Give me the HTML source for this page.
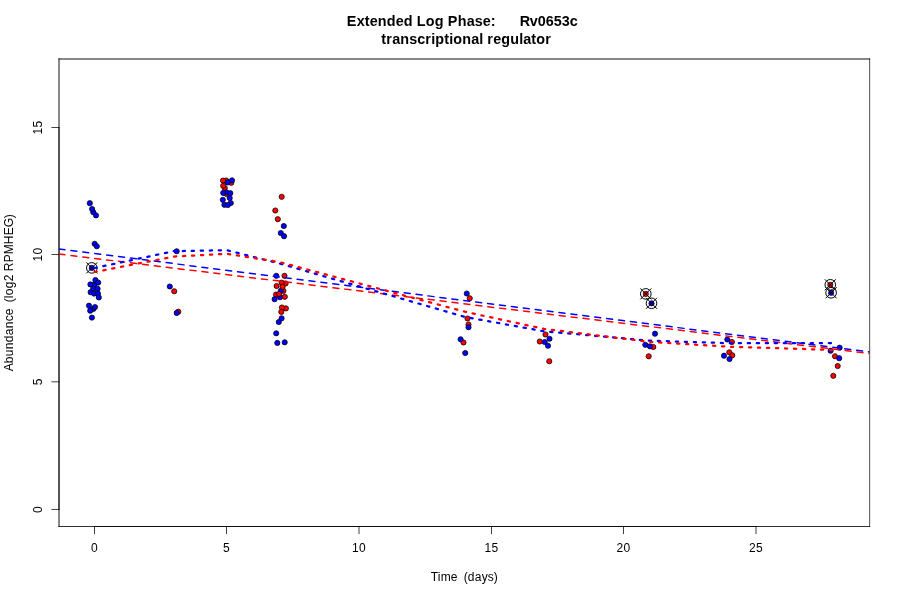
<!DOCTYPE html>
<html><head><meta charset="utf-8"><title>Extended Log Phase: Rv0653c</title>
<style>
html,body{margin:0;padding:0;background:#fff;}
body{width:900px;height:600px;overflow:hidden;}
svg{display:block;will-change:transform;}
text{font-family:"Liberation Sans",Arial,Helvetica,sans-serif;fill:#000;}
.t{font-weight:bold;font-size:14.4px;}
.a{font-size:12px;}
</style></head><body>
<svg width="900" height="600" viewBox="0 0 900 600">
<defs><clipPath id="pc"><rect x="59" y="59" width="810.5" height="467.5"/></clipPath></defs>
<rect width="900" height="600" fill="#fff"/>
<text class="t" x="346.75 356.75 364.75 369.75 377.75 386.75 395.75 403.75 412.75 416.75 425.75 434.75 443.75 447.75 457.75 466.75 474.75 482.75 490.75 495.75 499.75 503.75 507.75 511.75 515.75 519.75 529.75 537.75 545.75 553.75 561.75 569.75 577.75" y="0" transform="translate(0,26) scale(1,1.07)" xml:space="preserve">Extended Log Phase:      Rv0653c </text>
<text class="t" x="377.25 381.25 386.25 392.25 400.25 409.25 417.25 425.25 431.25 435.25 444.25 449.25 453.25 462.25 471.25 479.25 483.25 487.25 493.25 501.25 510.25 519.25 523.25 531.25 536.25 545.25" y="0" transform="translate(0,44.3) scale(1,1.07)" xml:space="preserve"> transcriptional regulator</text>
<text class="a" x="430.75 437.75 440.75 450.75 457.75 460.75 463.75 467.75 474.75 481.75 487.75 493.75" y="581" xml:space="preserve">Time  (days)</text>
<text class="a" x="-78.50 -70.50 -63.50 -56.50 -49.50 -42.50 -35.50 -28.50 -22.50 -15.50 -12.50 -9.50 -5.50 -2.50 4.50 11.50 18.50 21.50 30.50 38.50 48.50 57.50 65.50 74.50" y="0" transform="translate(13,292.75) rotate(-90)" xml:space="preserve">Abundance  (log2 RPMHEG)</text>
<g stroke="#000" fill="none"><line x1="58.5" y1="59" x2="870" y2="59" stroke-width="0.94"/><line x1="59" y1="58.5" x2="59" y2="527" stroke-width="0.94"/><line x1="869.66" y1="58.5" x2="869.66" y2="527" stroke-width="0.7"/><line x1="58.5" y1="526.5" x2="870" y2="526.5" stroke-width="0.81"/></g>
<g stroke="#000" stroke-width="0.75" fill="none" stroke-linecap="round"><line x1="94.5" y1="526.5" x2="756.0" y2="526.5"/><line x1="94.5" y1="526.5" x2="94.5" y2="533.7"/><line x1="226.5" y1="526.5" x2="226.5" y2="533.7"/><line x1="359.0" y1="526.5" x2="359.0" y2="533.7"/><line x1="491.5" y1="526.5" x2="491.5" y2="533.7"/><line x1="623.5" y1="526.5" x2="623.5" y2="533.7"/><line x1="756.0" y1="526.5" x2="756.0" y2="533.7"/><line x1="59.0" y1="509.45" x2="59.0" y2="127.5"/><line x1="51.8" y1="509.45" x2="59.0" y2="509.45"/><line x1="51.8" y1="381.8" x2="59.0" y2="381.8"/><line x1="51.8" y1="254.5" x2="59.0" y2="254.5"/><line x1="51.8" y1="127.5" x2="59.0" y2="127.5"/></g>
<text class="a" x="91.00" y="551.5" xml:space="preserve">0</text><text class="a" x="223.00" y="551.5" xml:space="preserve">5</text><text class="a" x="352.00 359.00" y="551.5" xml:space="preserve">10</text><text class="a" x="484.50 491.50" y="551.5" xml:space="preserve">15</text><text class="a" x="616.50 623.50" y="551.5" xml:space="preserve">20</text><text class="a" x="749.00 756.00" y="551.5" xml:space="preserve">25</text>
<text class="a" x="-3.50" y="0" transform="translate(42,509.45) rotate(-90)" xml:space="preserve">0</text><text class="a" x="-3.50" y="0" transform="translate(42,381.8) rotate(-90)" xml:space="preserve">5</text><text class="a" x="-7.00 0.00" y="0" transform="translate(42,254.5) rotate(-90)" xml:space="preserve">10</text><text class="a" x="-7.00 0.00" y="0" transform="translate(42,127.5) rotate(-90)" xml:space="preserve">15</text>
<g clip-path="url(#pc)">
<circle cx="94.4" cy="284.6" r="2.6" fill="#0000ff" stroke="#000" stroke-width="0.75"/><circle cx="90.6" cy="292.2" r="2.6" fill="#0000ff" stroke="#000" stroke-width="0.75"/><circle cx="89.8" cy="203.2" r="2.6" fill="#0000ff" stroke="#000" stroke-width="0.75"/><circle cx="93.3" cy="212.2" r="2.6" fill="#0000ff" stroke="#000" stroke-width="0.75"/><circle cx="92.1" cy="209.0" r="2.6" fill="#0000ff" stroke="#000" stroke-width="0.75"/><circle cx="96.0" cy="215.4" r="2.6" fill="#0000ff" stroke="#000" stroke-width="0.75"/><circle cx="94.6" cy="243.75" r="2.6" fill="#0000ff" stroke="#000" stroke-width="0.75"/><circle cx="96.8" cy="246.25" r="2.6" fill="#0000ff" stroke="#000" stroke-width="0.75"/><circle cx="91.8" cy="267.9" r="2.6" fill="#0000ff" stroke="#000" stroke-width="0.75"/><circle cx="95.4" cy="280.0" r="2.6" fill="#0000ff" stroke="#000" stroke-width="0.75"/><circle cx="98.2" cy="282.6" r="2.6" fill="#0000ff" stroke="#000" stroke-width="0.75"/><circle cx="90.4" cy="284.4" r="2.6" fill="#0000ff" stroke="#000" stroke-width="0.75"/><circle cx="93.2" cy="288.6" r="2.6" fill="#0000ff" stroke="#000" stroke-width="0.75"/><circle cx="97.6" cy="288.8" r="2.6" fill="#0000ff" stroke="#000" stroke-width="0.75"/><circle cx="94.0" cy="293.6" r="2.6" fill="#0000ff" stroke="#000" stroke-width="0.75"/><circle cx="98.0" cy="293.6" r="2.6" fill="#0000ff" stroke="#000" stroke-width="0.75"/><circle cx="98.8" cy="297.4" r="2.6" fill="#0000ff" stroke="#000" stroke-width="0.75"/><circle cx="93.3" cy="309.0" r="2.6" fill="#0000ff" stroke="#000" stroke-width="0.75"/><circle cx="89.0" cy="305.7" r="2.6" fill="#0000ff" stroke="#000" stroke-width="0.75"/><circle cx="95.0" cy="307.1" r="2.6" fill="#0000ff" stroke="#000" stroke-width="0.75"/><circle cx="90.2" cy="310.7" r="2.6" fill="#0000ff" stroke="#000" stroke-width="0.75"/><circle cx="91.9" cy="317.6" r="2.6" fill="#0000ff" stroke="#000" stroke-width="0.75"/><circle cx="174.2" cy="291.25" r="2.6" fill="#ff0000" stroke="#000" stroke-width="0.75"/><circle cx="178.3" cy="311.7" r="2.6" fill="#ff0000" stroke="#000" stroke-width="0.75"/><circle cx="176.7" cy="251.25" r="2.6" fill="#0000ff" stroke="#000" stroke-width="0.75"/><circle cx="169.8" cy="286.5" r="2.6" fill="#0000ff" stroke="#000" stroke-width="0.75"/><circle cx="176.7" cy="312.9" r="2.6" fill="#0000ff" stroke="#000" stroke-width="0.75"/><circle cx="226.2" cy="180.5" r="2.6" fill="#ff0000" stroke="#000" stroke-width="0.75"/><circle cx="231.3" cy="182.8" r="2.6" fill="#ff0000" stroke="#000" stroke-width="0.75"/><circle cx="224.8" cy="188.0" r="2.6" fill="#ff0000" stroke="#000" stroke-width="0.75"/><circle cx="223.2" cy="185.8" r="2.6" fill="#ff0000" stroke="#000" stroke-width="0.75"/><circle cx="223.0" cy="180.6" r="2.6" fill="#ff0000" stroke="#000" stroke-width="0.75"/><circle cx="232.0" cy="180.4" r="2.6" fill="#0000ff" stroke="#000" stroke-width="0.75"/><circle cx="227.8" cy="182.4" r="2.6" fill="#0000ff" stroke="#000" stroke-width="0.75"/><circle cx="226.5" cy="194.0" r="2.6" fill="#ff0000" stroke="#000" stroke-width="0.75"/><circle cx="226.3" cy="192.3" r="2.6" fill="#0000ff" stroke="#000" stroke-width="0.75"/><circle cx="223.25" cy="192.9" r="2.6" fill="#0000ff" stroke="#000" stroke-width="0.75"/><circle cx="230.3" cy="193.2" r="2.6" fill="#0000ff" stroke="#000" stroke-width="0.75"/><circle cx="229.7" cy="198.0" r="2.6" fill="#0000ff" stroke="#000" stroke-width="0.75"/><circle cx="222.8" cy="199.8" r="2.6" fill="#0000ff" stroke="#000" stroke-width="0.75"/><circle cx="230.8" cy="203.0" r="2.6" fill="#0000ff" stroke="#000" stroke-width="0.75"/><circle cx="224.4" cy="204.8" r="2.6" fill="#0000ff" stroke="#000" stroke-width="0.75"/><circle cx="227.8" cy="205.0" r="2.6" fill="#0000ff" stroke="#000" stroke-width="0.75"/><circle cx="283.8" cy="226.0" r="2.6" fill="#0000ff" stroke="#000" stroke-width="0.75"/><circle cx="280.8" cy="233.0" r="2.6" fill="#0000ff" stroke="#000" stroke-width="0.75"/><circle cx="284.0" cy="236.2" r="2.6" fill="#0000ff" stroke="#000" stroke-width="0.75"/><circle cx="276.3" cy="275.8" r="2.6" fill="#0000ff" stroke="#000" stroke-width="0.75"/><circle cx="283.4" cy="290.9" r="2.6" fill="#ff0000" stroke="#000" stroke-width="0.75"/><circle cx="280.8" cy="290.8" r="2.6" fill="#0000ff" stroke="#000" stroke-width="0.75"/><circle cx="280.0" cy="297.2" r="2.6" fill="#0000ff" stroke="#000" stroke-width="0.75"/><circle cx="276.0" cy="294.6" r="2.6" fill="#ff0000" stroke="#000" stroke-width="0.75"/><circle cx="274.6" cy="299.2" r="2.6" fill="#0000ff" stroke="#000" stroke-width="0.75"/><circle cx="281.6" cy="318.3" r="2.6" fill="#0000ff" stroke="#000" stroke-width="0.75"/><circle cx="278.8" cy="322.0" r="2.6" fill="#0000ff" stroke="#000" stroke-width="0.75"/><circle cx="276.2" cy="333.3" r="2.6" fill="#0000ff" stroke="#000" stroke-width="0.75"/><circle cx="277.3" cy="342.9" r="2.6" fill="#0000ff" stroke="#000" stroke-width="0.75"/><circle cx="284.7" cy="342.3" r="2.6" fill="#0000ff" stroke="#000" stroke-width="0.75"/><circle cx="281.7" cy="196.8" r="2.6" fill="#ff0000" stroke="#000" stroke-width="0.75"/><circle cx="275.3" cy="210.5" r="2.6" fill="#ff0000" stroke="#000" stroke-width="0.75"/><circle cx="277.8" cy="219.2" r="2.6" fill="#ff0000" stroke="#000" stroke-width="0.75"/><circle cx="284.5" cy="275.8" r="2.6" fill="#ff0000" stroke="#000" stroke-width="0.75"/><circle cx="285.6" cy="283.4" r="2.6" fill="#ff0000" stroke="#000" stroke-width="0.75"/><circle cx="281.6" cy="282.6" r="2.6" fill="#ff0000" stroke="#000" stroke-width="0.75"/><circle cx="276.6" cy="286.0" r="2.6" fill="#ff0000" stroke="#000" stroke-width="0.75"/><circle cx="282.6" cy="286.8" r="2.6" fill="#ff0000" stroke="#000" stroke-width="0.75"/><circle cx="279.0" cy="294.0" r="2.6" fill="#ff0000" stroke="#000" stroke-width="0.75"/><circle cx="284.8" cy="296.8" r="2.6" fill="#ff0000" stroke="#000" stroke-width="0.75"/><circle cx="285.9" cy="308.4" r="2.6" fill="#ff0000" stroke="#000" stroke-width="0.75"/><circle cx="281.9" cy="307.5" r="2.6" fill="#ff0000" stroke="#000" stroke-width="0.75"/><circle cx="281.3" cy="311.9" r="2.6" fill="#ff0000" stroke="#000" stroke-width="0.75"/><circle cx="469.75" cy="298.25" r="2.6" fill="#ff0000" stroke="#000" stroke-width="0.75"/><circle cx="467.5" cy="318.5" r="2.6" fill="#ff0000" stroke="#000" stroke-width="0.75"/><circle cx="468.5" cy="324.5" r="2.6" fill="#ff0000" stroke="#000" stroke-width="0.75"/><circle cx="463.5" cy="342.5" r="2.6" fill="#ff0000" stroke="#000" stroke-width="0.75"/><circle cx="466.75" cy="293.5" r="2.6" fill="#0000ff" stroke="#000" stroke-width="0.75"/><circle cx="468.5" cy="327.25" r="2.6" fill="#0000ff" stroke="#000" stroke-width="0.75"/><circle cx="460.6" cy="339.3" r="2.6" fill="#0000ff" stroke="#000" stroke-width="0.75"/><circle cx="465.25" cy="353.0" r="2.6" fill="#0000ff" stroke="#000" stroke-width="0.75"/><circle cx="545.5" cy="334.5" r="2.6" fill="#ff0000" stroke="#000" stroke-width="0.75"/><circle cx="539.75" cy="341.5" r="2.6" fill="#ff0000" stroke="#000" stroke-width="0.75"/><circle cx="549.25" cy="361.25" r="2.6" fill="#ff0000" stroke="#000" stroke-width="0.75"/><circle cx="549.5" cy="338.75" r="2.6" fill="#0000ff" stroke="#000" stroke-width="0.75"/><circle cx="544.75" cy="342.0" r="2.6" fill="#0000ff" stroke="#000" stroke-width="0.75"/><circle cx="548.0" cy="345.75" r="2.6" fill="#0000ff" stroke="#000" stroke-width="0.75"/><circle cx="645.8" cy="293.9" r="2.6" fill="#ff0000" stroke="#000" stroke-width="0.75"/><circle cx="653.3" cy="347.0" r="2.6" fill="#ff0000" stroke="#000" stroke-width="0.75"/><circle cx="648.7" cy="356.3" r="2.6" fill="#ff0000" stroke="#000" stroke-width="0.75"/><circle cx="651.5" cy="303.3" r="2.6" fill="#0000ff" stroke="#000" stroke-width="0.75"/><circle cx="655.0" cy="333.7" r="2.6" fill="#0000ff" stroke="#000" stroke-width="0.75"/><circle cx="645.3" cy="344.8" r="2.6" fill="#0000ff" stroke="#000" stroke-width="0.75"/><circle cx="649.9" cy="346.3" r="2.6" fill="#0000ff" stroke="#000" stroke-width="0.75"/><circle cx="731.9" cy="342.0" r="2.6" fill="#ff0000" stroke="#000" stroke-width="0.75"/><circle cx="729.3" cy="352.3" r="2.6" fill="#ff0000" stroke="#000" stroke-width="0.75"/><circle cx="732.3" cy="355.3" r="2.6" fill="#ff0000" stroke="#000" stroke-width="0.75"/><circle cx="727.3" cy="339.5" r="2.6" fill="#0000ff" stroke="#000" stroke-width="0.75"/><circle cx="724.0" cy="355.7" r="2.6" fill="#0000ff" stroke="#000" stroke-width="0.75"/><circle cx="729.5" cy="359.0" r="2.6" fill="#0000ff" stroke="#000" stroke-width="0.75"/><circle cx="830.3" cy="284.8" r="2.6" fill="#ff0000" stroke="#000" stroke-width="0.75"/><circle cx="835.0" cy="356.25" r="2.6" fill="#ff0000" stroke="#000" stroke-width="0.75"/><circle cx="837.7" cy="366.0" r="2.6" fill="#ff0000" stroke="#000" stroke-width="0.75"/><circle cx="833.3" cy="375.8" r="2.6" fill="#ff0000" stroke="#000" stroke-width="0.75"/><circle cx="831.1" cy="292.8" r="2.6" fill="#0000ff" stroke="#000" stroke-width="0.75"/><circle cx="839.6" cy="347.7" r="2.6" fill="#0000ff" stroke="#000" stroke-width="0.75"/><circle cx="830.6" cy="350.7" r="2.6" fill="#0000ff" stroke="#000" stroke-width="0.75"/><circle cx="839.2" cy="358.2" r="2.6" fill="#0000ff" stroke="#000" stroke-width="0.75"/>
<circle cx="91.8" cy="267.9" r="5.3" fill="none" stroke="#000" stroke-width="1.0"/><path d="M86.30,262.40L97.30,273.40M86.30,273.40L97.30,262.40" stroke="#000" stroke-width="1.0" fill="none"/><circle cx="645.8" cy="293.9" r="5.3" fill="none" stroke="#000" stroke-width="1.0"/><path d="M640.30,288.40L651.30,299.40M640.30,299.40L651.30,288.40" stroke="#000" stroke-width="1.0" fill="none"/><circle cx="651.5" cy="303.3" r="5.3" fill="none" stroke="#000" stroke-width="1.0"/><path d="M646.00,297.80L657.00,308.80M646.00,308.80L657.00,297.80" stroke="#000" stroke-width="1.0" fill="none"/><circle cx="830.3" cy="284.8" r="5.3" fill="none" stroke="#000" stroke-width="1.0"/><path d="M824.80,279.30L835.80,290.30M824.80,290.30L835.80,279.30" stroke="#000" stroke-width="1.0" fill="none"/><circle cx="831.1" cy="292.8" r="5.3" fill="none" stroke="#000" stroke-width="1.0"/><path d="M825.60,287.30L836.60,298.30M825.60,298.30L836.60,287.30" stroke="#000" stroke-width="1.0" fill="none"/>
<line x1="59.0" y1="249.00" x2="869.5" y2="351.94" stroke="#0000ff" stroke-width="1.5" stroke-dasharray="6 6" stroke-linecap="round" fill="none"/><line x1="59.0" y1="254.05" x2="869.5" y2="353.50" stroke="#ff0000" stroke-width="1.5" stroke-dasharray="6 6" stroke-linecap="round" fill="none"/>
<polyline points="94.50,268.00 173.85,251.20 226.75,250.20 279.65,263.50 464.80,316.90 544.15,331.30 649.95,340.70 729.30,343.20 835.10,343.10" stroke="#0000ff" stroke-width="2.25" stroke-dasharray="2.25 6.75" stroke-linecap="round" stroke-linejoin="round" fill="none"/><polyline points="94.50,272.00 173.85,256.60 226.75,253.80 279.65,262.10 464.80,311.70 544.15,328.90 649.95,341.90 729.30,346.70 835.10,350.00" stroke="#ff0000" stroke-width="2.25" stroke-dasharray="2.25 6.75" stroke-linecap="round" stroke-linejoin="round" fill="none"/>
</g>
</svg>
</body></html>
